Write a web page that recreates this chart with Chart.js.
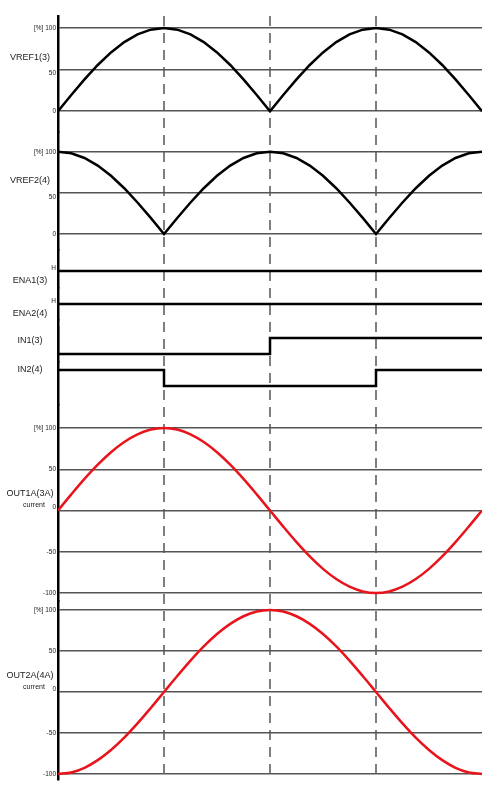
<!DOCTYPE html>
<html><head><meta charset="utf-8">
<script src="https://cdn.jsdelivr.net/npm/chart.js@4"></script>
<style>html,body{margin:0;padding:0;background:#fff}</style>
</head><body>
<canvas id="c" width="500" height="796"></canvas>
<script>
// time axis (quarter periods)
const xs = [0,0.125,0.25,0.375,0.5,0.625,0.75,0.875,1,1.125,1.25,1.375,1.5,1.625,1.75,1.875,2,2.125,2.25,2.375,2.5,2.625,2.75,2.875,3,3.125,3.25,3.375,3.5,3.625,3.75,3.875,4];
const vref1 = [0,19.5,38.3,55.6,70.7,83.1,92.4,98.1,100,98.1,92.4,83.1,70.7,55.6,38.3,19.5,0,19.5,38.3,55.6,70.7,83.1,92.4,98.1,100,98.1,92.4,83.1,70.7,55.6,38.3,19.5,0];
const vref2 = [100,98.1,92.4,83.1,70.7,55.6,38.3,19.5,0,19.5,38.3,55.6,70.7,83.1,92.4,98.1,100,98.1,92.4,83.1,70.7,55.6,38.3,19.5,0,19.5,38.3,55.6,70.7,83.1,92.4,98.1,100];
const out1a = [0,19.5,38.3,55.6,70.7,83.1,92.4,98.1,100,98.1,92.4,83.1,70.7,55.6,38.3,19.5,0,-19.5,-38.3,-55.6,-70.7,-83.1,-92.4,-98.1,-100,-98.1,-92.4,-83.1,-70.7,-55.6,-38.3,-19.5,0];
const out2a = [-100,-98.1,-92.4,-83.1,-70.7,-55.6,-38.3,-19.5,0,19.5,38.3,55.6,70.7,83.1,92.4,98.1,100,98.1,92.4,83.1,70.7,55.6,38.3,19.5,0,-19.5,-38.3,-55.6,-70.7,-83.1,-92.4,-98.1,-100];
// digital signals: [x, level] steps (1 = H, 0 = L)
const ena1X = [0,4], ena1Y = [1,1];
const ena2X = [0,4], ena2Y = [1,1];
const in1X = [0,0,2,2,4], in1Y = [1.75,0,0,1,1];
const in2X = [0,1,1,3,3,4], in2Y = [1,1,0,0,1,1];
const analogTicks = [0,50,100];
const currentTicks = [-100,-50,0,50,100];

const pts = (X,Y)=>X.map((x,i)=>({x, y:Y[i]}));
const BLK='#000', RED='#e8141b';
const ds = (data,axis,color,smooth)=>({data,yAxisID:axis,borderColor:color,borderWidth:2.5,pointRadius:0,tension:0,fill:false,cubicInterpolationMode:smooth?'monotone':'default'});

function aScale(min,max,weight,ticks){
  return {type:'linear',position:'left',stack:'s',stackWeight:weight,min,max,
    afterBuildTicks:s=>{s.ticks=ticks?ticks.map(v=>({value:v})):[];},
    ticks:{display:false},
    grid:{display:!!ticks,color:'#555',lineWidth:1.5,drawTicks:false},
    border:{display:true,color:'#000',width:2.5}};
}
const plugin = {id:'lbl', afterDraw(c){
  const g=c.ctx; g.save(); g.fillStyle='#222';
  const tick=(t,y)=>{g.font='6.5px "Liberation Sans"';g.textAlign='right';g.textBaseline='middle';g.fillText(t,56,y);};
  const title=(t,x,y)=>{g.font='9px "Liberation Sans"';g.textAlign='center';g.textBaseline='middle';g.fillText(t,x,y);};
  const S=c.scales;
  [['yV1','VREF1(3)'],['yV2','VREF2(4)']].forEach(([a,t])=>{
    tick('[%] 100',S[a].getPixelForValue(100)); tick('50',S[a].getPixelForValue(50)+4); tick('0',S[a].getPixelForValue(0));
    title(t,30,S[a].getPixelForValue(50)-12);
  });
  [['yE1','ENA1(3)'],['yE2','ENA2(4)']].forEach(([a,t])=>{
    const y=S[a].getPixelForValue(1); tick('H',y-3); title(t,30,y+10);
  });
  title('IN1(3)',30,S.yI1.getPixelForValue(1)+3);
  title('IN2(4)',30,S.yI2.getPixelForValue(1));
  [['yO1','OUT1A(3A)'],['yO2','OUT2A(4A)']].forEach(([a,t])=>{
    const s=S[a];
    tick('[%] 100',s.getPixelForValue(100)); tick('50',s.getPixelForValue(50)); tick('-50',s.getPixelForValue(-50)); tick('-100',s.getPixelForValue(-100));
    g.font='6.5px "Liberation Sans"';g.textAlign='right';g.fillText('0',56,s.getPixelForValue(0)-3);
    title(t,30,s.getPixelForValue(0)-17);
    g.font='7px "Liberation Sans"';g.textAlign='center';g.fillText('current',34,s.getPixelForValue(0)-5);
  });
  g.restore();
}};

new Chart(document.getElementById('c'),{
  type:'line',
  data:{datasets:[
    ds(pts(xs,vref1),'yV1',BLK), ds(pts(xs,vref2),'yV2',BLK),
    ds(pts(ena1X,ena1Y),'yE1',BLK), ds(pts(ena2X,ena2Y),'yE2',BLK),
    ds(pts(in1X,in1Y),'yI1',BLK), ds(pts(in2X,in2Y),'yI2',BLK),
    ds(pts(xs,out1a),'yO1',RED,true), ds(pts(xs,out2a),'yO2',RED,true)
  ]},
  options:{responsive:false,animation:false,
    layout:{padding:{left:58,right:18,top:16,bottom:8}},
    plugins:{legend:{display:false},tooltip:{enabled:false}},
    scales:{
      x:{type:'linear',min:0,max:4,ticks:{display:false,stepSize:1},
         grid:{display:false},border:{display:false}},
      yO2:aScale(-107.3,111,179,currentTicks),
      yO1:aScale(-109.7,127.9,196,currentTicks),
      yI2:aScale(-1.1875,1.5,43,null),
      yI1:aScale(-0.5,2.125,42,null),
      yE2:aScale(0,2,32,null),
      yE1:aScale(-0.0625,2.3125,38,null),
      yV2:aScale(-19.5,124,118,analogTicks),
      yV1:aScale(-25,114.5,116,analogTicks)
    }},
  plugins:[plugin,{id:'dash',beforeDatasetsDraw(c){
    const g=c.ctx,a=c.chartArea,s=c.scales.x; g.save(); g.strokeStyle='#555'; g.lineWidth=1.5; g.setLineDash([10,7]);
    [1,2,3].forEach(v=>{const x=s.getPixelForValue(v); g.beginPath(); g.moveTo(x,a.top); g.lineTo(x,a.bottom); g.stroke();});
    g.restore();}}]
});
</script>
</body></html>
